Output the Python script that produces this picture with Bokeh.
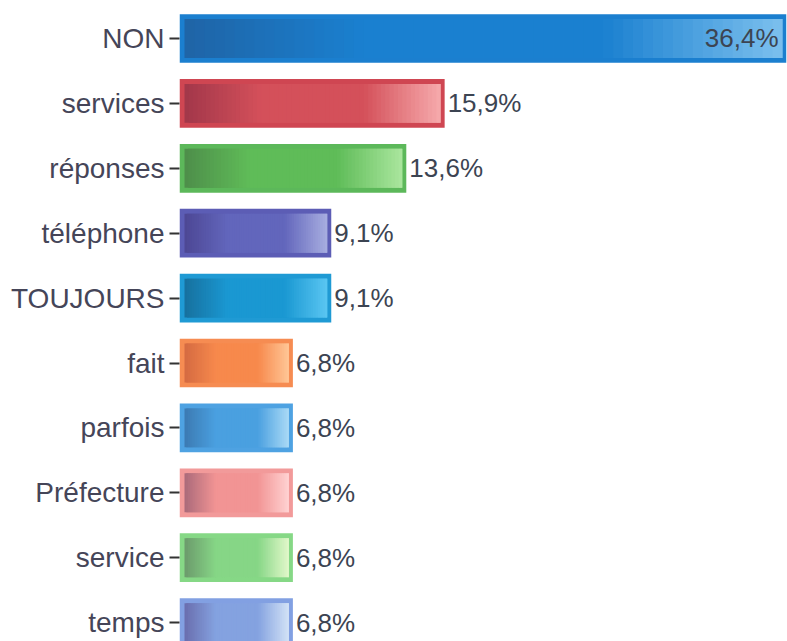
from bokeh.plotting import figure
from bokeh.models import Range1d, FixedTicker, ColumnDataSource
from bokeh.core.properties import value
from bokeh.embed import file_html
from bokeh.resources import INLINE

# ---- data ----
categories = ["NON", "services", "réponses", "téléphone", "TOUJOURS",
              "fait", "parfois", "Préfecture", "service", "temps"]
percents = [36.4, 15.9, 13.6, 9.1, 9.1, 6.8, 6.8, 6.8, 6.8, 6.8]
pct_labels = ["36,4%", "15,9%", "13,6%", "9,1%", "9,1%",
              "6,8%", "6,8%", "6,8%", "6,8%", "6,8%"]

# colours: border, dark (left), mid, light (right)
border_colors = ["#1b7fcf", "#cf4652", "#5cb85a", "#5c5db5", "#1f9ad4",
                 "#f68c52", "#4ea2e2", "#f29a9a", "#86d886", "#82a0e2"]
dark_colors = ["#1f64a6", "#a2374a", "#4e8e4a", "#4d4794", "#17709e",
               "#d46a42", "#3c7ab2", "#aa6a7a", "#6c9a6c", "#6a6eae"]
mid_colors = ["#1a80d0", "#d4505a", "#5fbc58", "#6266bc", "#1a98d2",
              "#f7894c", "#4aa0e0", "#f29494", "#86d686", "#84a2e0"]
light_colors = ["#7cc0ee", "#f6aaac", "#aae69e", "#a8aee0", "#5ac6f2",
                "#ffc696", "#aadaf6", "#ffd2d2", "#e2f8ca", "#d2e2f6"]

n = len(categories)
ys = [n - 1 - i for i in range(n)]

BAR_H = 0.75
INSET_X = 0.3
INSET_Y = 0.075


def hex2rgb(h):
    h = h.lstrip("#")
    return tuple(int(h[i:i + 2], 16) for i in (0, 2, 4))


def rgb2hex(c):
    return "#%02x%02x%02x" % tuple(int(round(v)) for v in c)


def lerp(a, b, t):
    return tuple(a[k] + (b[k] - a[k]) * t for k in range(3))


def grad(dark, mid, light, t):
    d, m, l = hex2rgb(dark), hex2rgb(mid), hex2rgb(light)
    if t < 0.3:
        return rgb2hex(lerp(d, m, t / 0.3))
    if t < 0.7:
        return rgb2hex(m)
    return rgb2hex(lerp(m, l, (t - 0.7) / 0.3))


p = figure(width=787, height=641, output_backend="svg", toolbar_location=None,
           x_range=Range1d(0, 36.4), y_range=Range1d(-0.291, 9.462),
           min_border_left=179, min_border_right=1, min_border_top=8,
           min_border_bottom=0)
p.outline_line_color = None
p.background_fill_color = "white"
p.border_fill_color = "white"
p.xgrid.visible = False
p.ygrid.visible = False
p.xaxis.visible = False

# outer bars (border colour)
outer = ColumnDataSource(dict(y=ys, right=percents, color=border_colors))
p.hbar(y="y", left=0, right="right", height=BAR_H, fill_color="color",
       line_color=None, source=outer)

# inner gradient segments (overlapping to hide seams)
seg_y, seg_l, seg_r, seg_c = [], [], [], []
NSEG = 60
for i in range(n):
    v = percents[i]
    x0, x1 = INSET_X, v - INSET_X * 0.8
    w = (x1 - x0) / NSEG
    for k in range(NSEG):
        t = (k + 0.5) / NSEG
        seg_y.append(ys[i])
        seg_l.append(x0 + k * w)
        seg_r.append(min(x0 + (k + 2) * w, x1))
        seg_c.append(grad(dark_colors[i], mid_colors[i], light_colors[i], t))
inner = ColumnDataSource(dict(y=seg_y, left=seg_l, right=seg_r, color=seg_c))
p.hbar(y="y", left="left", right="right", height=BAR_H - 2 * INSET_Y,
       fill_color="color", line_color=None, source=inner)

# value labels
vmax = max(percents)
out_idx = [i for i in range(n) if percents[i] < 0.9 * vmax]
in_idx = [i for i in range(n) if percents[i] >= 0.9 * vmax]
p.text(x=[percents[i] for i in out_idx], y=[ys[i] for i in out_idx],
       text=[pct_labels[i] for i in out_idx], x_offset=3,
       text_align="left", text_baseline="middle",
       text_font=value("Liberation Sans"), text_font_size="26px",
       text_color="#3c4452")
p.text(x=[percents[i] for i in in_idx], y=[ys[i] for i in in_idx],
       text=[pct_labels[i] for i in in_idx], x_offset=-8,
       text_align="right", text_baseline="middle",
       text_font=value("Liberation Sans"), text_font_size="26px",
       text_color="#3c4452")

# y axis
yax = p.yaxis[0]
yax.ticker = FixedTicker(ticks=ys)
yax.major_label_overrides = {ys[i]: categories[i] for i in range(n)}
yax.axis_line_color = None
yax.minor_tick_line_color = None
yax.major_tick_out = 10
yax.major_tick_in = 0
yax.major_tick_line_color = "#333333"
yax.major_tick_line_width = 2
yax.major_label_standoff = 5
yax.major_label_text_font = "Liberation Sans"
yax.major_label_text_font_size = "28px"
yax.major_label_text_color = "#454558"

open("out.html", "w").write(file_html(p, INLINE))
